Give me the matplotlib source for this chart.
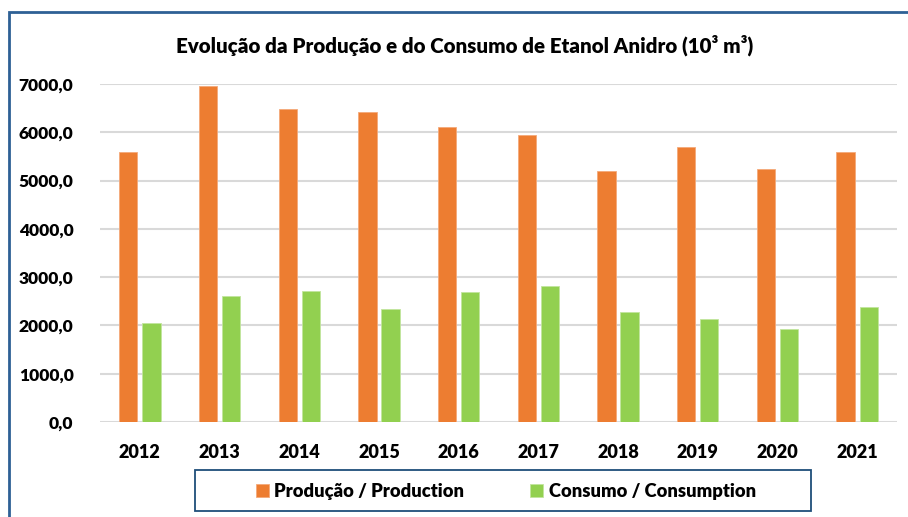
import numpy as np
import matplotlib
matplotlib.use("Agg")
import matplotlib.pyplot as plt
from matplotlib.patches import Rectangle
from matplotlib.ticker import FuncFormatter

plt.rcParams['font.family'] = ['Lato', 'DejaVu Sans']

years = ["2012", "2013", "2014", "2015", "2016", "2017", "2018", "2019", "2020", "2021"]
producao = [5600, 6960, 6480, 6420, 6100, 5940, 5200, 5700, 5250, 5600]
consumo = [2045, 2600, 2710, 2350, 2690, 2820, 2270, 2130, 1920, 2380]
labels = ["Produção / Production", "Consumo / Consumption"]
title = "Evolução da Produção e do Consumo de Etanol Anidro (10³ m³)"

W, H = 908, 517
fig = plt.figure(figsize=(W / 100, H / 100), dpi=100)
ax = fig.add_axes([100 / W, 1 - 422 / H, 797 / W, 338 / H])

x = np.arange(len(years))
bw = 0.23
ax.bar(x - 0.145, producao, bw, color="#ED7D31", edgecolor="#F4A97A", linewidth=0.6,
       label=labels[0], zorder=3)
ax.bar(x + 0.145, consumo, bw, color="#92D050", edgecolor="#C2E59E", linewidth=0.6,
       label=labels[1], zorder=3)

ax.set_xlim(-0.5, len(years) - 0.5)
ax.set_ylim(0, 7000)
ax.set_yticks(np.arange(0, 7001, 1000))
ax.yaxis.set_major_formatter(FuncFormatter(lambda v, p: "{:.1f}".format(v).replace(".", ",")))
ax.set_xticks(x)
ax.set_xticklabels(years)
ax.grid(axis="y", color="#D9D9D9", linewidth=1.5, zorder=0)
ax.set_axisbelow(True)
for s in ax.spines.values():
    s.set_visible(False)
ax.tick_params(axis="y", length=0, labelsize=12.5, pad=19)
ax.tick_params(axis="x", length=0, labelsize=13, pad=16)
for t in ax.get_xticklabels() + ax.get_yticklabels():
    t.set_fontweight("heavy")

fig.text(465 / W, 1 - 45 / H, title, ha="center", va="center",
         fontsize=14.8, fontweight="heavy")

# outer chart frame
fig.patches.append(Rectangle((9 / W, -0.1), 1.2, 1 - 12 / H + 0.1, transform=fig.transFigure,
                             fill=False, edgecolor="#2E6095", linewidth=2))
# legend frame
fig.patches.append(Rectangle((195 / W, 1 - 511 / H), 616 / W, 41 / H, transform=fig.transFigure,
                             fill=False, edgecolor="#1F4E79", linewidth=1.3))
leg = fig.legend(loc="center", bbox_to_anchor=(506 / W, 1 - 491 / H), ncol=2,
                 frameon=False, fontsize=13.2, handlelength=0.7, handleheight=0.7,
                 handletextpad=0.3, columnspacing=3.6)
for t in leg.get_texts():
    t.set_fontweight("heavy")

fig.savefig("out.png", dpi=100)
